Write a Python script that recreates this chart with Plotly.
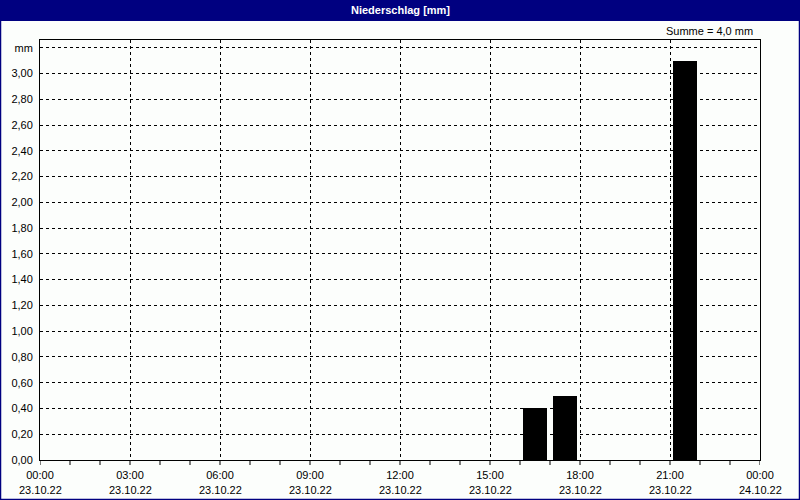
import plotly.graph_objects as go

# Data
bar_hours = [16.5, 17.5, 21.5]          # hour of day (centre of hourly bar)
bar_values = [0.40, 0.50, 3.10]         # mm
tick_hours = [0, 3, 6, 9, 12, 15, 18, 21, 24]
tick_times = ["00:00", "03:00", "06:00", "09:00", "12:00", "15:00", "18:00", "21:00", "00:00"]
tick_dates = ["23.10.22"] * 8 + ["24.10.22"]
y_ticks = [0, 0.2, 0.4, 0.6, 0.8, 1.0, 1.2, 1.4, 1.6, 1.8, 2.0, 2.2, 2.4, 2.6, 2.8, 3.0, 3.2]
y_labels = ["0,00", "0,20", "0,40", "0,60", "0,80", "1,00", "1,20", "1,40", "1,60",
            "1,80", "2,00", "2,20", "2,40", "2,60", "2,80", "3,00", "mm"]
title_text = "Niederschlag [mm]"
sum_text = "Summe = 4,0 mm"

W, H = 800, 500
L, R, T, B = 40, 40, 40, 40
pw, ph = W - L - R, H - T - B

def px(x):
    return (x - L) / pw

def py(y):
    return (H - B - y) / ph

NAVY = "#000080"
BG = "#FCFEFC"
FONT = "Liberation Sans, Arial, sans-serif"

fig = go.Figure()
fig.add_trace(go.Bar(
    x=bar_hours, y=bar_values, width=0.8,
    marker=dict(color="#000000", line=dict(width=0)),
    hoverinfo="skip",
))

fig.update_layout(
    width=W, height=H,
    margin=dict(l=L, r=R, t=T, b=B, autoexpand=False),
    paper_bgcolor=BG, plot_bgcolor=BG,
    showlegend=False,
    font=dict(family=FONT, size=11, color="#000000"),
    xaxis=dict(
        range=[0, 24], tickmode="array", tickvals=tick_hours, ticktext=tick_times,
        showgrid=True, gridcolor="#000000", griddash="3px,3px", gridwidth=1,
        showline=True, linecolor="#000000", linewidth=1, mirror=True,
        ticks="", zeroline=False, fixedrange=True, automargin=False,
        ticklabelstandoff=5, tickfont=dict(size=11),
    ),
    yaxis=dict(
        range=[0, 3.26], tickmode="array", tickvals=y_ticks, ticktext=y_labels,
        showgrid=True, gridcolor="#000000", griddash="3px,3px", gridwidth=1,
        showline=True, linecolor="#000000", linewidth=1, mirror=True,
        ticks="", zeroline=False, fixedrange=True, automargin=False,
        ticklabelstandoff=4, tickfont=dict(size=11),
    ),
    bargap=0,
)

shapes = []
# minor hourly ticks below x axis
for hh in range(0, 25):
    shapes.append(dict(type="line", xref="x", yref="paper", x0=hh, x1=hh,
                       y0=0, y1=py(465), line=dict(color="#000000", width=1)))
# title bar
shapes.append(dict(type="rect", xref="paper", yref="paper",
                   x0=px(0), x1=px(W), y0=py(21), y1=py(0),
                   fillcolor=NAVY, line=dict(width=0), layer="above"))
# outer frame
shapes.append(dict(type="rect", xref="paper", yref="paper",
                   x0=px(0.5), x1=px(W - 0.5), y0=py(H - 0.5), y1=py(0.5),
                   fillcolor="rgba(0,0,0,0)", line=dict(color=NAVY, width=1.5), layer="above"))
fig.update_layout(shapes=shapes)

# date line under each time label
for hh, d in zip(tick_hours, tick_dates):
    fig.add_annotation(xref="x", yref="paper", x=hh, y=py(490), text=d,
                       showarrow=False, xanchor="center", yanchor="middle",
                       font=dict(family=FONT, size=11, color="#000000"))

fig.add_annotation(xref="paper", yref="paper", x=px(400), y=py(10),
                   text=f"<b>{title_text}</b>", showarrow=False,
                   font=dict(family=FONT, size=11, color="#FFFFFF"),
                   xanchor="center", yanchor="middle")
fig.add_annotation(xref="paper", yref="paper", x=px(755), y=py(31),
                   text=sum_text, showarrow=False,
                   font=dict(family=FONT, size=11, color="#000000"),
                   xanchor="right", yanchor="middle")

fig.write_html(
    "out.html",
    config={"displayModeBar": False},
    post_script="document.body.style.margin='0';document.body.style.padding='0';",
)
